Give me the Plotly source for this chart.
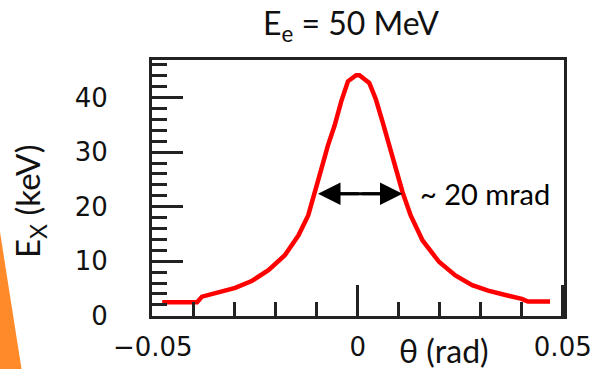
import plotly.graph_objects as go

# ---- data ----
theta = [-0.0477, -0.0392, -0.0380, -0.0339, -0.0299, -0.0259, -0.0218, -0.0178,
         -0.0145, -0.0121, -0.0105, -0.0089, -0.0073, -0.0057, -0.0040, -0.0024,
         -0.0004, 0.0004, 0.0028, 0.0044, 0.0061, 0.0077, 0.0093, 0.0109, 0.0129,
         0.0158, 0.0198, 0.0238, 0.0279, 0.0318, 0.0360, 0.0400, 0.0415, 0.0469]
ex_kev = [2.46, 2.46, 3.5, 4.4, 5.1, 6.35, 8.36, 11.1,
          14.7, 18.4, 22.35, 26.9, 31.2, 34.8, 39.4, 43.0,
          44.1, 44.1, 42.7, 39.7, 35.4, 31.2, 26.9, 22.7, 18.4,
          13.8, 9.9, 7.4, 5.6, 4.6, 3.8, 3.1, 2.6, 2.6]

fwhm_left = -0.0097
fwhm_right = 0.0109
fwhm_level = 22.35
fwhm_label = "~ 20 mrad"
title_text = "E<sub>e</sub> = 50 MeV"
x_title = "θ (rad)"
y_title = "E<sub>X</sub> (keV)"
x_ticks = [-0.05, 0, 0.05]
x_ticktext = ["−0.05", "0", "0.05"]
y_ticks = [0, 10, 20, 30, 40]

W, H = 598, 369
L, R, T, B = 152, 34, 60, 53
PW, PH = W - L - R, H - T - B


def px(x):
    return (x - L) / PW


def py(y):
    return (H - B - y) / PH


axis_col = "#222222"
fig = go.Figure()
fig.add_trace(go.Scatter(x=theta, y=ex_kev, mode="lines",
                         line=dict(color="#ff0000", width=4.5),
                         showlegend=False, hoverinfo="skip"))

# double-headed FWHM arrow: shaft + two heads
mid = (fwhm_left + fwhm_right) / 2
fig.add_shape(type="line", xref="x", yref="y", x0=fwhm_left + 0.002, x1=fwhm_right - 0.002,
              y0=fwhm_level, y1=fwhm_level, line=dict(color="#000000", width=3))
for end in (fwhm_left, fwhm_right):
    fig.add_annotation(x=end, y=fwhm_level, ax=mid, ay=fwhm_level,
                       xref="x", yref="y", axref="x", ayref="y",
                       text="", showarrow=True, arrowhead=2, arrowsize=1.5,
                       arrowwidth=3, arrowcolor="#000000", standoff=0, startstandoff=0)

fig.add_annotation(x=0.0148, y=fwhm_level, xref="x", yref="y", text=fwhm_label,
                   showarrow=False, xanchor="left", yanchor="middle",
                   font=dict(family="Lato", size=29, color="#000000"))

fig.add_annotation(x=px(351), y=py(25), xref="paper", yref="paper", text=title_text,
                   showarrow=False, xanchor="center", yanchor="middle",
                   font=dict(family="Lato", size=32, color="#111111"))
fig.add_annotation(x=px(444), y=py(350), xref="paper", yref="paper", text=x_title,
                   showarrow=False, xanchor="center", yanchor="middle",
                   font=dict(family="Lato", size=32, color="#111111"))
fig.add_annotation(x=px(29), y=py(202), xref="paper", yref="paper", text=y_title,
                   showarrow=False, xanchor="center", yanchor="middle", textangle=-90,
                   font=dict(family="Lato", size=33, color="#111111"))

fig.add_shape(type="path", xref="paper", yref="paper",
              path=f"M {px(0)},{py(232)} L {px(22)},{py(372)} L {px(0)},{py(372)} Z",
              fillcolor="#ff8a2a", line=dict(width=0), layer="below")

fig.update_layout(
    width=W, height=H, margin=dict(l=L, r=R, t=T, b=B, autoexpand=False),
    paper_bgcolor="white", plot_bgcolor="white",
    xaxis=dict(range=[-0.0502, 0.0503], tickmode="array", tickvals=x_ticks,
               ticktext=x_ticktext, ticks="inside", ticklen=31, tickwidth=2.5,
               tickcolor=axis_col, showline=True, linewidth=3, linecolor=axis_col,
               mirror=True, showgrid=False, zeroline=False, ticklabelstandoff=6,
               automargin=False,
               tickfont=dict(family="DejaVu Sans", size=26, color="#111111"),
               minor=dict(tick0=0, dtick=0.01, ticks="inside", ticklen=14,
                          tickwidth=2.5, tickcolor=axis_col, showgrid=False)),
    yaxis=dict(range=[-0.05, 46.9], tickmode="array", tickvals=y_ticks,
               ticks="inside", ticklen=31, tickwidth=2.5,
               tickcolor=axis_col, showline=True, linewidth=3, linecolor=axis_col,
               mirror=True, showgrid=False, zeroline=False, ticklabelstandoff=36,
               automargin=False,
               tickfont=dict(family="DejaVu Sans", size=26, color="#111111"),
               minor=dict(tick0=0, dtick=2, ticks="inside", ticklen=15,
                          tickwidth=2.5, tickcolor=axis_col, showgrid=False)),
)

fig.write_html("out.html")
